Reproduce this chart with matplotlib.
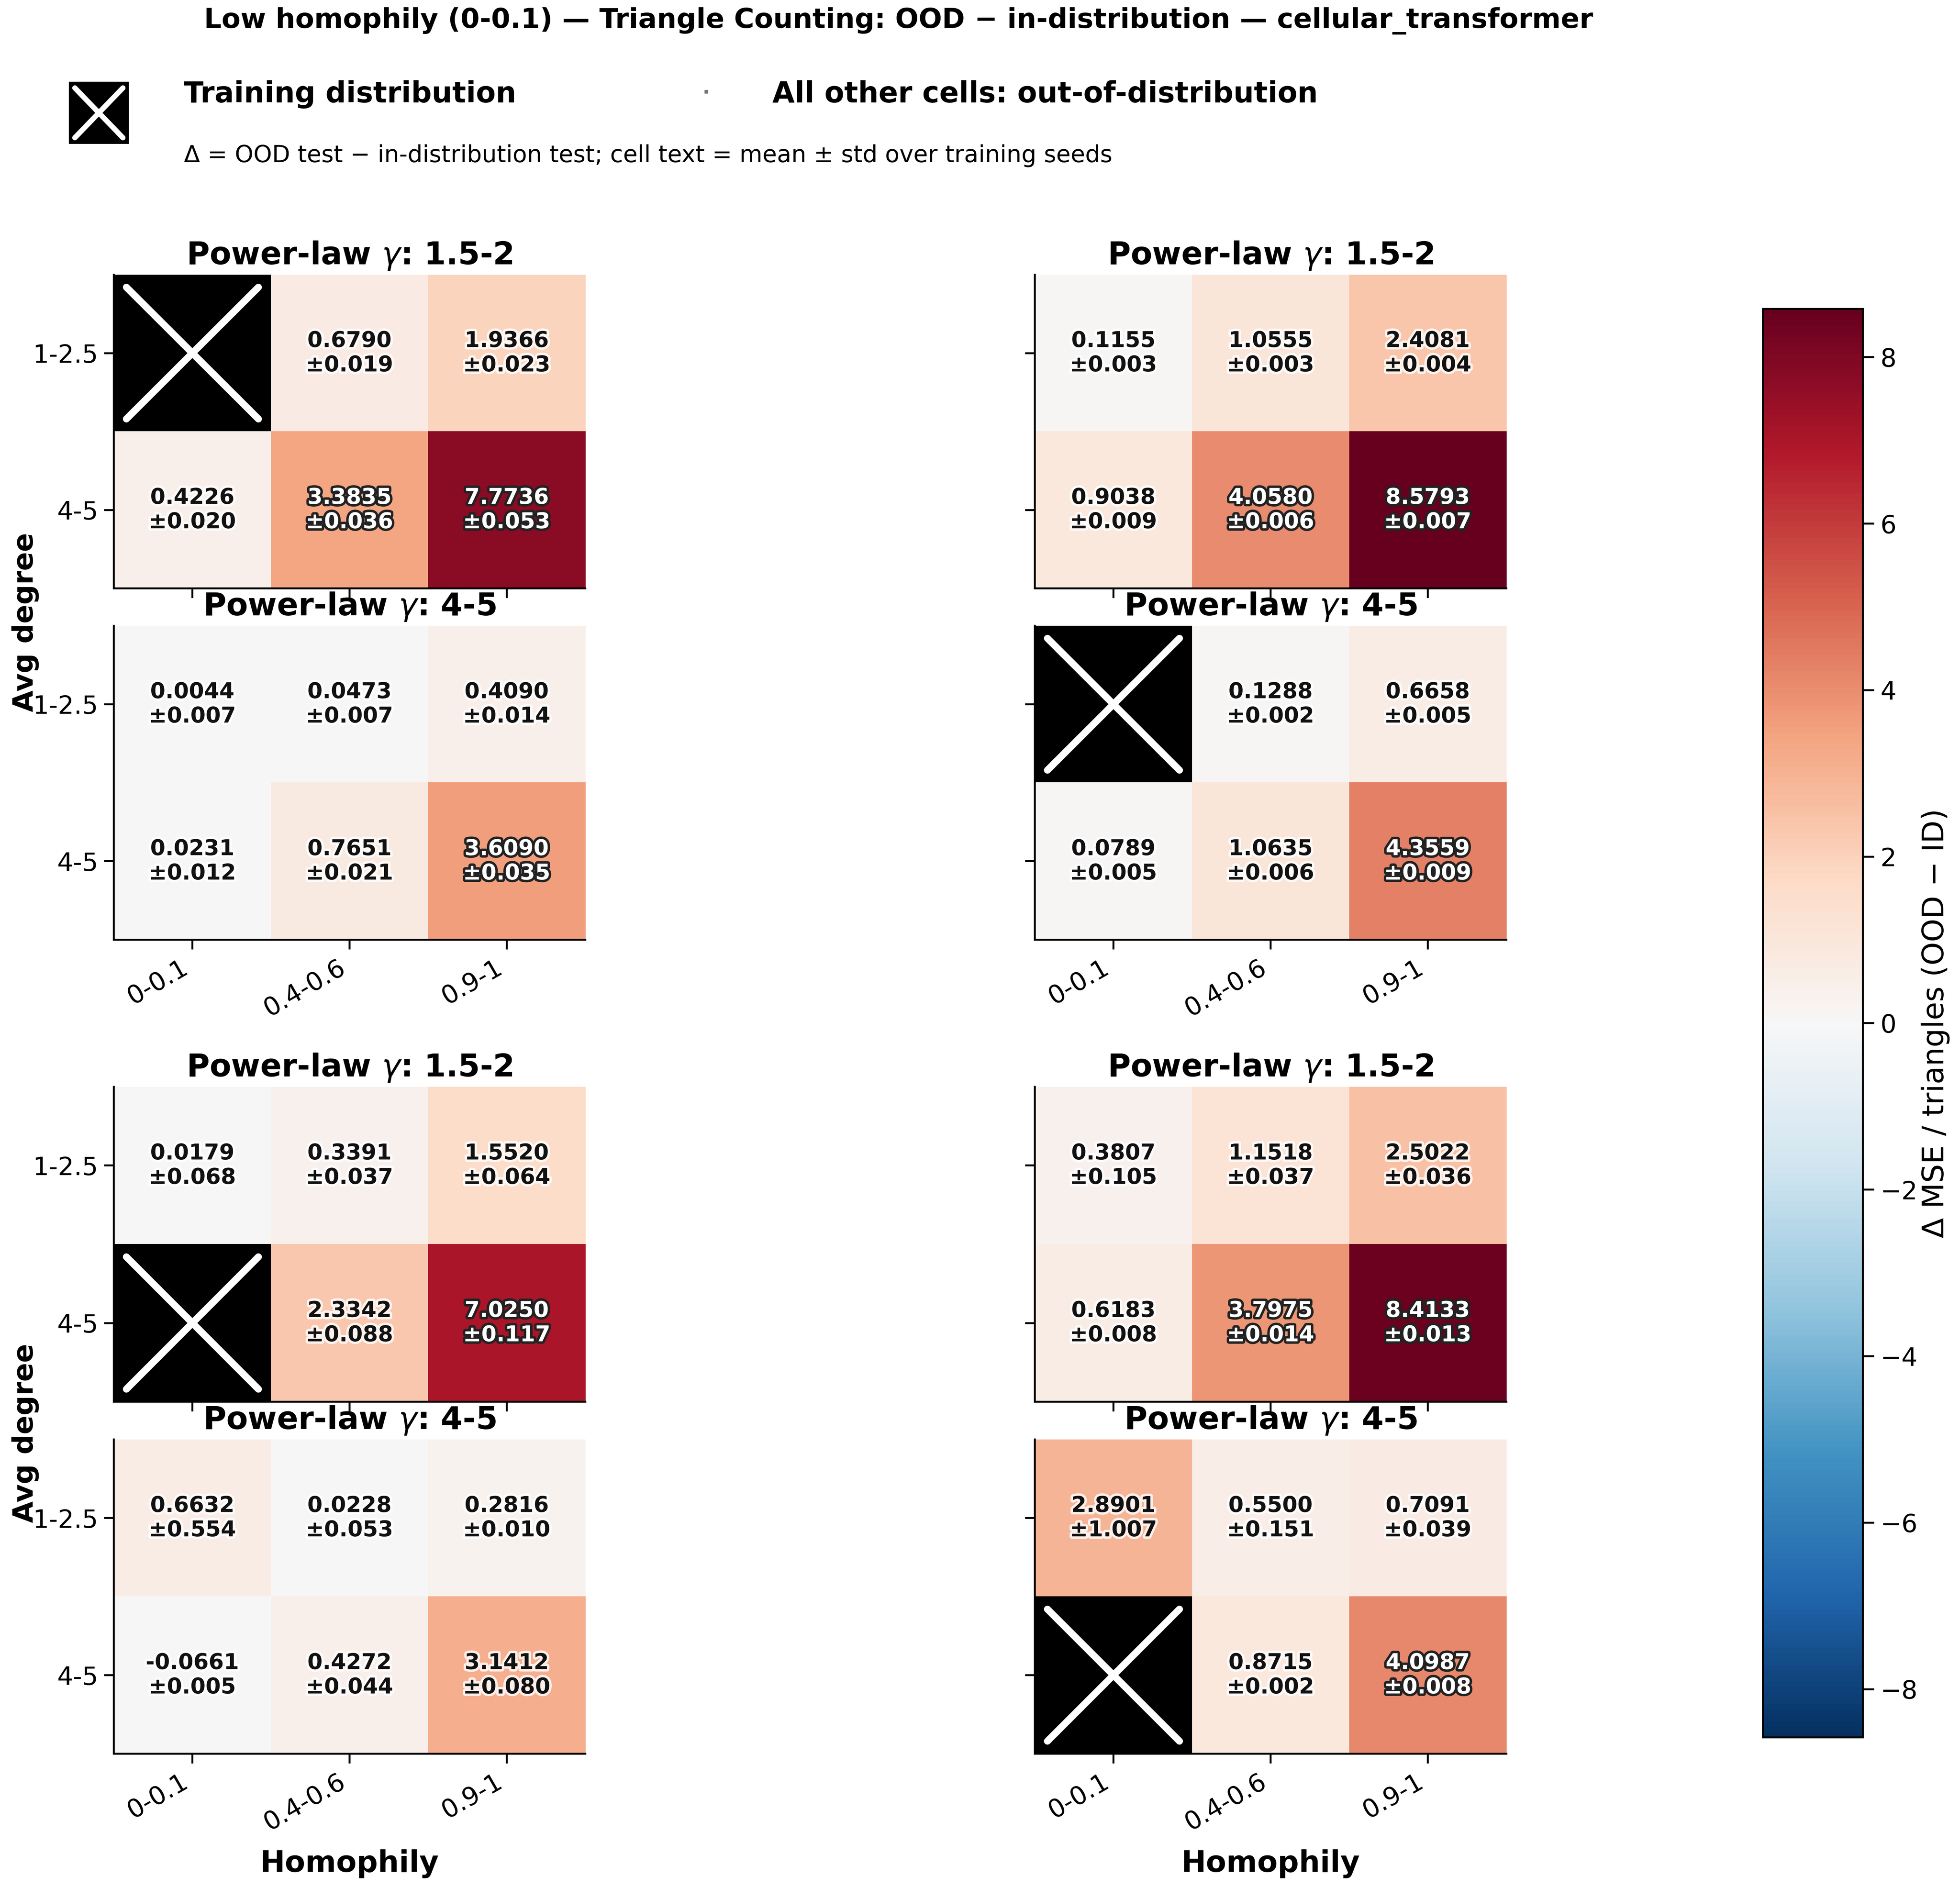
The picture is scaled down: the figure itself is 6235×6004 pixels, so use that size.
import numpy as np
import matplotlib.pyplot as plt
import matplotlib.patheffects as pe
from matplotlib.colors import Normalize
from matplotlib.lines import Line2D

# ---------------- data ----------------
homophily_bins = ['0-0.1', '0.4-0.6', '0.9-1']
degree_bins = ['1-2.5', '4-5']
gamma_bins = ['1.5-2', '4-5']
nan = np.nan

# block 1 (top-left): training cell = gamma 1.5-2, deg 1-2.5, hom 0-0.1
tl_g1_mean = [[nan, 0.6790, 1.9366], [0.4226, 3.3835, 7.7736]]
tl_g1_std = [[nan, 0.019, 0.023], [0.020, 0.036, 0.053]]
tl_g2_mean = [[0.0044, 0.0473, 0.4090], [0.0231, 0.7651, 3.6090]]
tl_g2_std = [[0.007, 0.007, 0.014], [0.012, 0.021, 0.035]]

# block 2 (top-right): training cell = gamma 4-5, deg 1-2.5, hom 0-0.1
tr_g1_mean = [[0.1155, 1.0555, 2.4081], [0.9038, 4.0580, 8.5793]]
tr_g1_std = [[0.003, 0.003, 0.004], [0.009, 0.006, 0.007]]
tr_g2_mean = [[nan, 0.1288, 0.6658], [0.0789, 1.0635, 4.3559]]
tr_g2_std = [[nan, 0.002, 0.005], [0.005, 0.006, 0.009]]

# block 3 (bottom-left): training cell = gamma 1.5-2, deg 4-5, hom 0-0.1
bl_g1_mean = [[0.0179, 0.3391, 1.5520], [nan, 2.3342, 7.0250]]
bl_g1_std = [[0.068, 0.037, 0.064], [nan, 0.088, 0.117]]
bl_g2_mean = [[0.6632, 0.0228, 0.2816], [-0.0661, 0.4272, 3.1412]]
bl_g2_std = [[0.554, 0.053, 0.010], [0.005, 0.044, 0.080]]

# block 4 (bottom-right): training cell = gamma 4-5, deg 4-5, hom 0-0.1
br_g1_mean = [[0.3807, 1.1518, 2.5022], [0.6183, 3.7975, 8.4133]]
br_g1_std = [[0.105, 0.037, 0.036], [0.008, 0.014, 0.013]]
br_g2_mean = [[2.8901, 0.5500, 0.7091], [nan, 0.8715, 4.0987]]
br_g2_std = [[1.007, 0.151, 0.039], [nan, 0.002, 0.008]]

blocks = [
    [(tl_g1_mean, tl_g1_std), (tl_g2_mean, tl_g2_std)],
    [(tr_g1_mean, tr_g1_std), (tr_g2_mean, tr_g2_std)],
    [(bl_g1_mean, bl_g1_std), (bl_g2_mean, bl_g2_std)],
    [(br_g1_mean, br_g1_std), (br_g2_mean, br_g2_std)],
]

all_vals = np.array([m for b in blocks for (m, s) in b], dtype=float)
vmax = np.nanmax(np.abs(all_vals))
norm = Normalize(vmin=-vmax, vmax=vmax)
cmap = plt.get_cmap('RdBu_r').copy()
cmap.set_bad('black')

# ---------------- figure ----------------
W, H = 6235, 6004
fig = plt.figure(figsize=(W / 400, H / 400), dpi=400)

def rect(x0, y0, x1, y1):
    return [x0 / W, 1 - y1 / H, (x1 - x0) / W, (y1 - y0) / H]

col_x = [(362, 1862), (3292, 4792)]
grp_y = [[(874, 1872), (1991, 2990)], [(3458, 4460), (4580, 5580)]]

fig.text(0.4585, 0.989,
         'Low homophily (0-0.1) — Triangle Counting: OOD − in-distribution — cellular_transformer',
         ha='center', va='center', fontsize=15.8, fontweight='bold')

# legend row
lax = fig.add_axes(rect(219, 260, 410, 458))
lax.set_xlim(0, 1)
lax.set_ylim(0, 1)
lax.add_patch(plt.Rectangle((0, 0), 1, 1, color='black'))
lax.plot([0.1, 0.9], [0.1, 0.9], color='white', lw=3, solid_capstyle='round')
lax.plot([0.1, 0.9], [0.9, 0.1], color='white', lw=3, solid_capstyle='round')
lax.axis('off')
fig.text(585 / W, 1 - 300 / H, 'Training distribution', ha='left', va='center',
         fontsize=16.5, fontweight='bold')
fig.add_artist(Line2D([2247 / W], [1 - 292 / H], marker='s', ms=1.2, color='0.45',
                      transform=fig.transFigure))
fig.text(2457 / W, 1 - 300 / H, 'All other cells: out-of-distribution', ha='left', va='center',
         fontsize=16.5, fontweight='bold')
fig.text(585 / W, 1 - 495 / H,
         'Δ = OOD test − in-distribution test; cell text = mean ± std over training seeds',
         ha='left', va='center', fontsize=13.5)

inset = 0.42
im = None
for bi, block in enumerate(blocks):
    gi, ci = bi // 2, bi % 2
    x0, x1 = col_x[ci]
    for pi, (mean, std) in enumerate(block):
        y0, y1 = grp_y[gi][pi]
        ax = fig.add_axes(rect(x0, y0, x1, y1))
        m = np.array(mean, dtype=float)
        s = np.array(std, dtype=float)
        im = ax.imshow(np.ma.masked_invalid(m), cmap=cmap, norm=norm,
                       aspect='auto', interpolation='nearest')
        for r in range(m.shape[0]):
            for c in range(m.shape[1]):
                if np.isnan(m[r, c]):
                    ax.plot([c - inset, c + inset], [r - inset, r + inset],
                            color='white', lw=4, solid_capstyle='round')
                    ax.plot([c - inset, c + inset], [r + inset, r - inset],
                            color='white', lw=4, solid_capstyle='round')
                    continue
                v = m[r, c]
                if abs(v) > 0.38 * vmax:
                    tc, sc = 'white', '#222222'
                else:
                    tc, sc = '#111111', (1, 1, 1, 0.8)
                ax.text(c, r, f'{v:.4f}\n±{s[r, c]:.3f}', ha='center', va='center',
                        fontsize=12.5, fontweight='bold', color=tc,
                        path_effects=[pe.withStroke(linewidth=2.8, foreground=sc)])
        ax.set_title(rf'Power-law $\gamma$: {gamma_bins[pi]}', fontsize=18, fontweight='bold')
        ax.set_xticks(range(3))
        ax.set_yticks(range(2))
        for sp in ['top', 'right']:
            ax.spines[sp].set_visible(False)
        for sp in ['left', 'bottom']:
            ax.spines[sp].set_linewidth(1.1)
        ax.tick_params(length=5.5, width=1.1, labelsize=14.5)
        if ci == 0:
            ax.set_yticklabels(degree_bins)
        else:
            ax.set_yticklabels([])
        if pi == 1:
            ax.set_xticklabels(homophily_bins, rotation=30, ha='right')
            if gi == 1:
                ax.set_xlabel('Homophily', fontsize=17, fontweight='bold', labelpad=8)
        else:
            ax.set_xticklabels([])

# shared y labels
fig.text(80 / W, 1 - 1980 / H, 'Avg degree', rotation=90, ha='center', va='center',
         fontsize=16, fontweight='bold')
fig.text(80 / W, 1 - 4560 / H, 'Avg degree', rotation=90, ha='center', va='center',
         fontsize=16, fontweight='bold')

# colorbar
cax = fig.add_axes(rect(5608, 983, 5926, 5528))
cbar = fig.colorbar(im, cax=cax)
cbar.set_ticks(np.arange(-8, 9, 2))
cbar.ax.tick_params(labelsize=14.5, length=6.5, width=1.1)
cbar.outline.set_linewidth(1.1)
cbar.set_label('Δ MSE / triangles (OOD − ID)', fontsize=17, labelpad=2)

fig.savefig('out.png', dpi=400)
